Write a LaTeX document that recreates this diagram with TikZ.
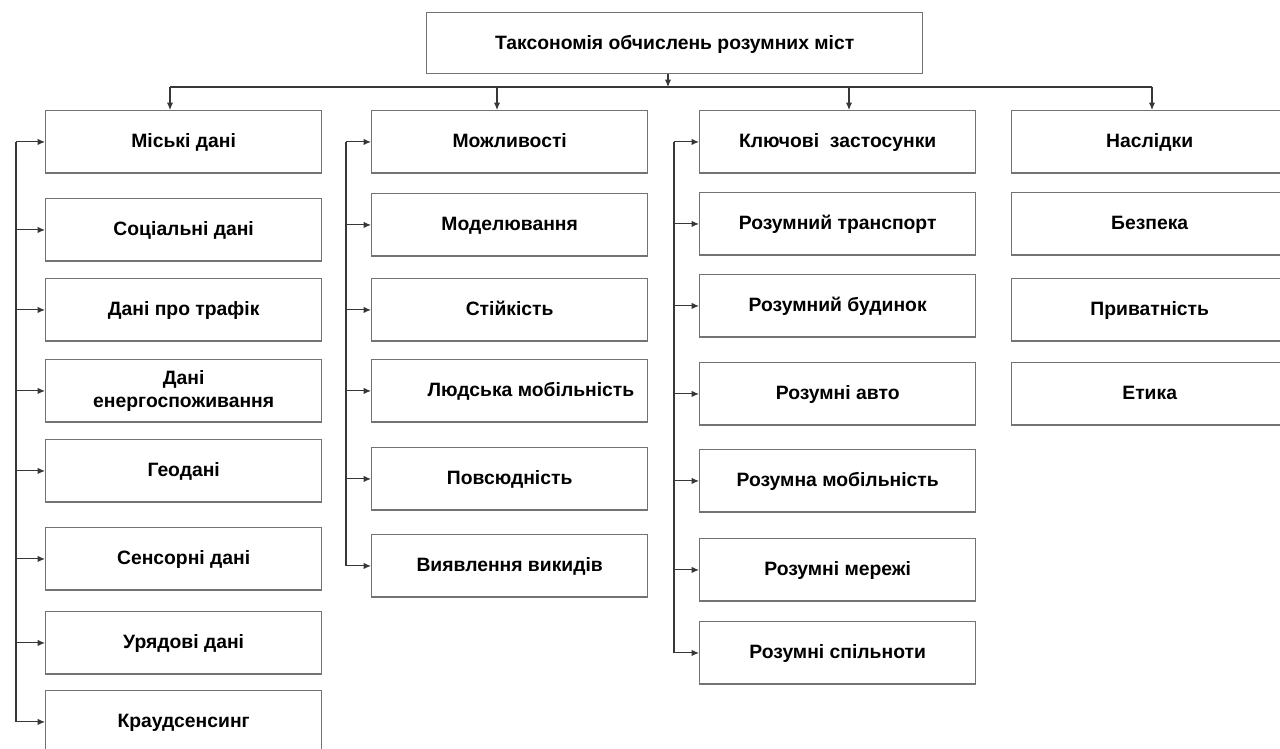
\documentclass[tikz,border=0pt]{standalone}
\usepackage{fontspec}
\setmainfont{Liberation Sans}
\usetikzlibrary{arrows.meta, positioning}

\definecolor{boxgray}{RGB}{115,115,115}
\definecolor{linegray}{RGB}{55,55,55}

\tikzset{
  box/.style={rectangle, draw=boxgray, line width=0.8pt, anchor=north west,
    minimum width=5.52cm, minimum height=1.25cm, inner sep=2pt, align=center,
    text height=1.75ex, text depth=0.45ex,
    font=\bfseries\fontsize{11}{13.5}\selectfont},
  link/.style={draw=linegray, line width=0.6pt}
}

\begin{document}
\begin{tikzpicture}[x=0.02cm, y=-0.02cm, >={Latex[length=4.2pt,width=3.6pt]},
  every edge/.style={link}]

  \useasboundingbox (0,0) rectangle (1280,749);

% define the root
  \node[box, minimum width=9.92cm, minimum height=1.22cm] (root) at (426,12)
{Таксономія обчислень розумних міст};

% define the city data column
  \node[box] (d1) at (45,110) {Міські дані};
  \node[box] (d2) at (45,198) {Соціальні дані};
  \node[box] (d3) at (45,278) {Дані про трафік};
  \node[box, text height=, text depth=] (d4) at (45,359) {Дані\\енергоспоживання};
  \node[box] (d5) at (45,439) {Геодані};
  \node[box] (d6) at (45,527) {Сенсорні дані};
  \node[box] (d7) at (45,611) {Урядові дані};
  \node[box] (d8) at (45,690) {Краудсенсинг};

% define the capabilities column
  \node[box] (m1) at (371,110) {Можливості};
  \node[box] (m2) at (371,193) {Моделювання};
  \node[box] (m3) at (371,278) {Стійкість};
  \node[box] (m4) at (371,359) {\hspace{2.2em}Людська мобільність};
  \node[box] (m5) at (371,447) {Повсюдність};
  \node[box] (m6) at (371,534) {Виявлення викидів};

% define the applications column
  \node[box] (k1) at (699,110) {Ключові\ \ застосунки};
  \node[box] (k2) at (699,192) {Розумний транспорт};
  \node[box] (k3) at (699,274) {Розумний будинок};
  \node[box] (k4) at (699,362) {Розумні авто};
  \node[box] (k5) at (699,449) {Розумна мобільність};
  \node[box] (k6) at (699,538) {Розумні мережі};
  \node[box] (k7) at (699,621) {Розумні спільноти};

% define the implications column
  \node[box] (n1) at (1011,110) {Наслідки};
  \node[box] (n2) at (1011,192) {Безпека};
  \node[box] (n3) at (1011,278) {Приватність};
  \node[box] (n4) at (1011,362) {Етика};

% bus and spine points
  \coordinate (b0) at (668,87);
  \coordinate (b1) at (170,87);
  \coordinate (b2) at (497,87);
  \coordinate (b3) at (849,87);
  \coordinate (b4) at (1152,87);
  \coordinate (s1) at (16,0);
  \coordinate (s2) at (346,0);
  \coordinate (s3) at (674,0);

% define the links
  \draw[link] (b1) -- (b4);
  \path[->] (b0 |- root.south) edge (b0)
            (b1) edge (b1 |- d1.north)
            (b2) edge (b2 |- m1.north)
            (b3) edge (b3 |- k1.north)
            (b4) edge (b4 |- n1.north);

  \draw[link] (s1 |- d1.west) -- (s1 |- d8.west);
  \path[->] (s1 |- d1.west) edge (d1.west)
            (s1 |- d2.west) edge (d2.west)
            (s1 |- d3.west) edge (d3.west)
            (s1 |- d4.west) edge (d4.west)
            (s1 |- d5.west) edge (d5.west)
            (s1 |- d6.west) edge (d6.west)
            (s1 |- d7.west) edge (d7.west)
            (s1 |- d8.west) edge (d8.west);

  \draw[link] (s2 |- m1.west) -- (s2 |- m6.west);
  \path[->] (s2 |- m1.west) edge (m1.west)
            (s2 |- m2.west) edge (m2.west)
            (s2 |- m3.west) edge (m3.west)
            (s2 |- m4.west) edge (m4.west)
            (s2 |- m5.west) edge (m5.west)
            (s2 |- m6.west) edge (m6.west);

  \draw[link] (s3 |- k1.west) -- (s3 |- k7.west);
  \path[->] (s3 |- k1.west) edge (k1.west)
            (s3 |- k2.west) edge (k2.west)
            (s3 |- k3.west) edge (k3.west)
            (s3 |- k4.west) edge (k4.west)
            (s3 |- k5.west) edge (k5.west)
            (s3 |- k6.west) edge (k6.west)
            (s3 |- k7.west) edge (k7.west);

\end{tikzpicture}
\end{document}
